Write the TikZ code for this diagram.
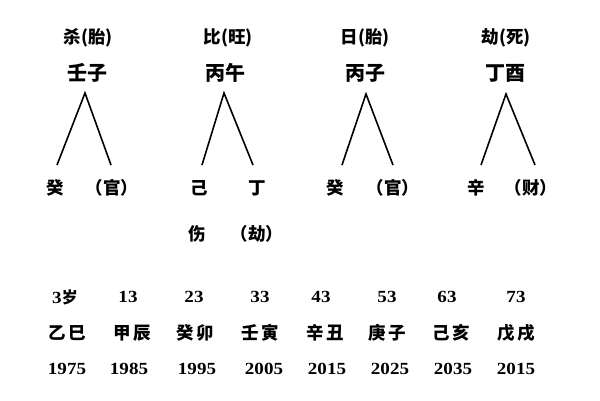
\documentclass[tikz,border=0pt]{standalone}
\usepackage{fontspec}
\setmainfont{Liberation Serif}
\newfontfamily\cjk{Noto Sans CJK SC}
\newfontfamily\digits{Liberation Serif}[FakeStretch=1.12]
\begin{document}
\begin{tikzpicture}[x=1pt,y=-1pt,
  lab/.style={font=\cjk\bfseries\fontsize{17.5}{17.5}\selectfont, inner sep=0pt},
  pillar/.style={font=\cjk\bfseries\fontsize{20}{20}\selectfont, inner sep=0pt},
  hid/.style={font=\cjk\bfseries\fontsize{17.5}{17.5}\selectfont, inner sep=0pt},
  gz/.style={font=\cjk\bfseries\fontsize{17.5}{17.5}\selectfont, inner sep=0pt},
  num/.style={font=\digits\bfseries\fontsize{17}{17}\selectfont, inner sep=0pt},
  branch/.style={line width=1.6pt, black}]
\useasboundingbox (0,0) rectangle (600,400);
% top labels
\node[lab] (l1) at (88,38) {杀(胎)};
\node[lab] (l2) at (228,38) {比(旺)};
\node[lab] (l3) at (365,38) {日(胎)};
\node[lab] (l4) at (506,38) {劫(死)};
% pillars
\node[pillar] (p1) at (87,73) {壬子};
\node[pillar] (p2) at (225,73) {丙午};
\node[pillar] (p3) at (365,73) {丙子};
\node[pillar] (p4) at (505,73) {丁酉};
% branch coordinates
\coordinate (a1) at (85,93);  \coordinate (a1l) at (57,165);  \coordinate (a1r) at (111,165);
\coordinate (a2) at (224,93); \coordinate (a2l) at (202,165); \coordinate (a2r) at (253,165);
\coordinate (a3) at (366,94); \coordinate (a3l) at (342,165); \coordinate (a3r) at (393,165);
\coordinate (a4) at (506,94); \coordinate (a4l) at (481,165); \coordinate (a4r) at (535,165);
\draw[branch] (a1l) -- (a1) -- (a1r);
\draw[branch] (a2l) -- (a2) -- (a2r);
\draw[branch] (a3l) -- (a3) -- (a3r);
\draw[branch] (a4l) -- (a4) -- (a4r);
% hidden stems
\node[hid] (h1) at (55,188) {癸};
\node[hid] (h2) at (112,188) {（官）};
\node[hid] (h3) at (199,188) {己};
\node[hid] (h4) at (257,188) {丁};
\node[hid] (h5) at (335,188) {癸};
\node[hid] (h6) at (393,188) {（官）};
\node[hid] (h7) at (476,188) {辛};
\node[hid] (h8) at (531,188) {（财）};
\node[hid] (h9) at (197,234) {伤};
\node[hid] (h10) at (257,234) {（劫）};
% ages
\node[num] (g1) at (65,297) {3{\cjk\fontsize{16}{16}\selectfont 岁}};
\node[num] (g2) at (128,297) {13};
\node[num] (g3) at (194,297) {23};
\node[num] (g4) at (260,297) {33};
\node[num] (g5) at (321,297) {43};
\node[num] (g6) at (387,297) {53};
\node[num] (g7) at (447,297) {63};
\node[num] (g8) at (516,297) {73};
% luck pillars
\node[gz] (z1) at (67,333) {乙\,巳};
\node[gz] (z2) at (132,333) {甲\,辰};
\node[gz] (z3) at (195,333) {癸\,卯};
\node[gz] (z4) at (260,333) {壬\,寅};
\node[gz] (z5) at (325,333) {辛\,丑};
\node[gz] (z6) at (387,333) {庚\,子};
\node[gz] (z7) at (451,333) {己\,亥};
\node[gz] (z8) at (516,333) {戊\,戌};
% years
\node[num] (y1) at (67,369) {1975};
\node[num] (y2) at (129,369) {1985};
\node[num] (y3) at (197,369) {1995};
\node[num] (y4) at (264,369) {2005};
\node[num] (y5) at (327,369) {2015};
\node[num] (y6) at (390,369) {2025};
\node[num] (y7) at (453,369) {2035};
\node[num] (y8) at (516,369) {2015};
\end{tikzpicture}
\end{document}
